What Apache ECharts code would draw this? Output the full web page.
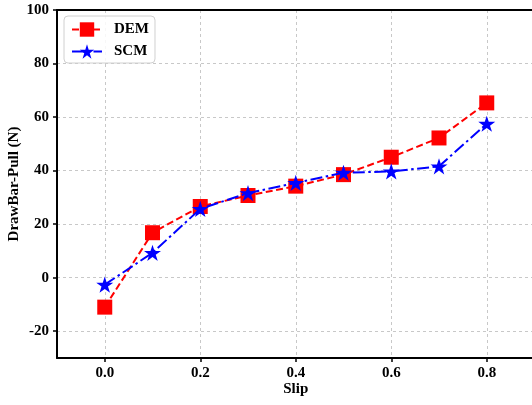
<!DOCTYPE html>
<html>
<head>
<meta charset="utf-8">
<script src="https://cdn.jsdelivr.net/npm/echarts@6/dist/echarts.min.js"></script>
<style>html,body{margin:0;padding:0;background:#fff}#c{width:532px;height:405px}</style>
</head>
<body>
<div id="c"></div>
<script>
const slip = [0.0, 0.1, 0.2, 0.3, 0.4, 0.5, 0.6, 0.7, 0.8];
const demValues = [-11, 16.8, 26.6, 30.7, 34.2, 38.5, 45.0, 52.2, 65.3];
const scmValues = [-2.6, 9.3, 25.7, 31.6, 35.4, 39.2, 39.7, 41.6, 57.5];
const xTicks = [0.0, 0.2, 0.4, 0.6, 0.8];
const yTicks = [-20, 0, 20, 40, 60, 80, 100];

const FONT = '"Liberation Serif", "Times New Roman", serif';
const STAR = 'path://M50 0 L61.23 34.55 L97.55 34.55 L68.17 55.9 L79.39 90.45 L50 69.1 L20.61 90.45 L31.83 55.9 L2.45 34.55 L38.77 34.55 Z';
const gridLine = { show: true, lineStyle: { color: '#c8c8c8', width: 1, type: [3, 3] } };
const axisLine = { show: true, onZero: false, lineStyle: { color: '#000', width: 2 } };
const tickStyle = { show: true, inside: false, length: 4, lineStyle: { color: '#000', width: 1.5 } };
const labelStyle = { color: '#000', fontFamily: FONT, fontWeight: 'bold', fontSize: 15 };

const chart = echarts.init(document.getElementById('c'), null, { renderer: 'canvas' });
chart.setOption({
  animation: false,
  backgroundColor: '#fff',
  grid: { left: 57, top: 10, width: 477.5, height: 348, containLabel: false, outerBoundsMode: 'none' },
  legend: {
    left: 64, top: 16,
    orient: 'vertical',
    padding: [6, 6, 4, 7],
    itemGap: 7,
    itemWidth: 30, itemHeight: 18,
    backgroundColor: 'rgba(255,255,255,0.85)',
    borderColor: '#d0d0d0', borderWidth: 1, borderRadius: 4,
    textStyle: { color: '#000', fontFamily: FONT, fontWeight: 'bold', fontSize: 15, padding: [0, 0, 0, 7] },
    data: ['DEM', 'SCM']
  },
  xAxis: [{
    type: 'value', min: -0.1, max: 0.9, interval: 0.1,
    name: 'Slip', nameLocation: 'middle', nameGap: 24, nameMoveOverlap: false,
    nameTextStyle: { color: '#000', fontFamily: FONT, fontWeight: 'bold', fontSize: 15 },
    axisLine: axisLine,
    axisTick: Object.assign({ customValues: xTicks }, tickStyle),
    axisLabel: Object.assign({ customValues: xTicks, margin: 8, formatter: v => Number(v).toFixed(1) }, labelStyle),
    splitLine: gridLine
  }, {
    type: 'value', position: 'top', min: -0.1, max: 0.9,
    axisLine: axisLine, axisTick: { show: false }, axisLabel: { show: false }, splitLine: { show: false }
  }],
  yAxis: [{
    type: 'value', min: -30, max: 100, interval: 10,
    name: 'DrawBar-Pull (N)', nameLocation: 'middle', nameGap: 35, nameMoveOverlap: false,
    nameTextStyle: { color: '#000', fontFamily: FONT, fontWeight: 'bold', fontSize: 15 },
    axisLine: axisLine,
    axisTick: Object.assign({ customValues: yTicks }, tickStyle),
    axisLabel: Object.assign({ customValues: yTicks, margin: 8 }, labelStyle),
    splitLine: gridLine
  }],
  series: [{
    name: 'DEM', type: 'line',
    data: slip.map((x, i) => [x, demValues[i]]),
    symbol: 'rect', symbolSize: 15,
    itemStyle: { color: '#ff0000', borderWidth: 0 },
    lineStyle: { color: '#ff0000', width: 2, type: [7, 3.5] },
    z: 2
  }, {
    name: 'SCM', type: 'line',
    data: slip.map((x, i) => [x, scmValues[i]]),
    symbol: STAR, symbolSize: 17, symbolKeepAspect: true,
    itemStyle: { color: '#0000ff', borderWidth: 0 },
    lineStyle: { color: '#0000ff', width: 2, type: [12, 3.5, 2.5, 3.5] },
    z: 3
  }]
});
</script>
</body>
</html>
